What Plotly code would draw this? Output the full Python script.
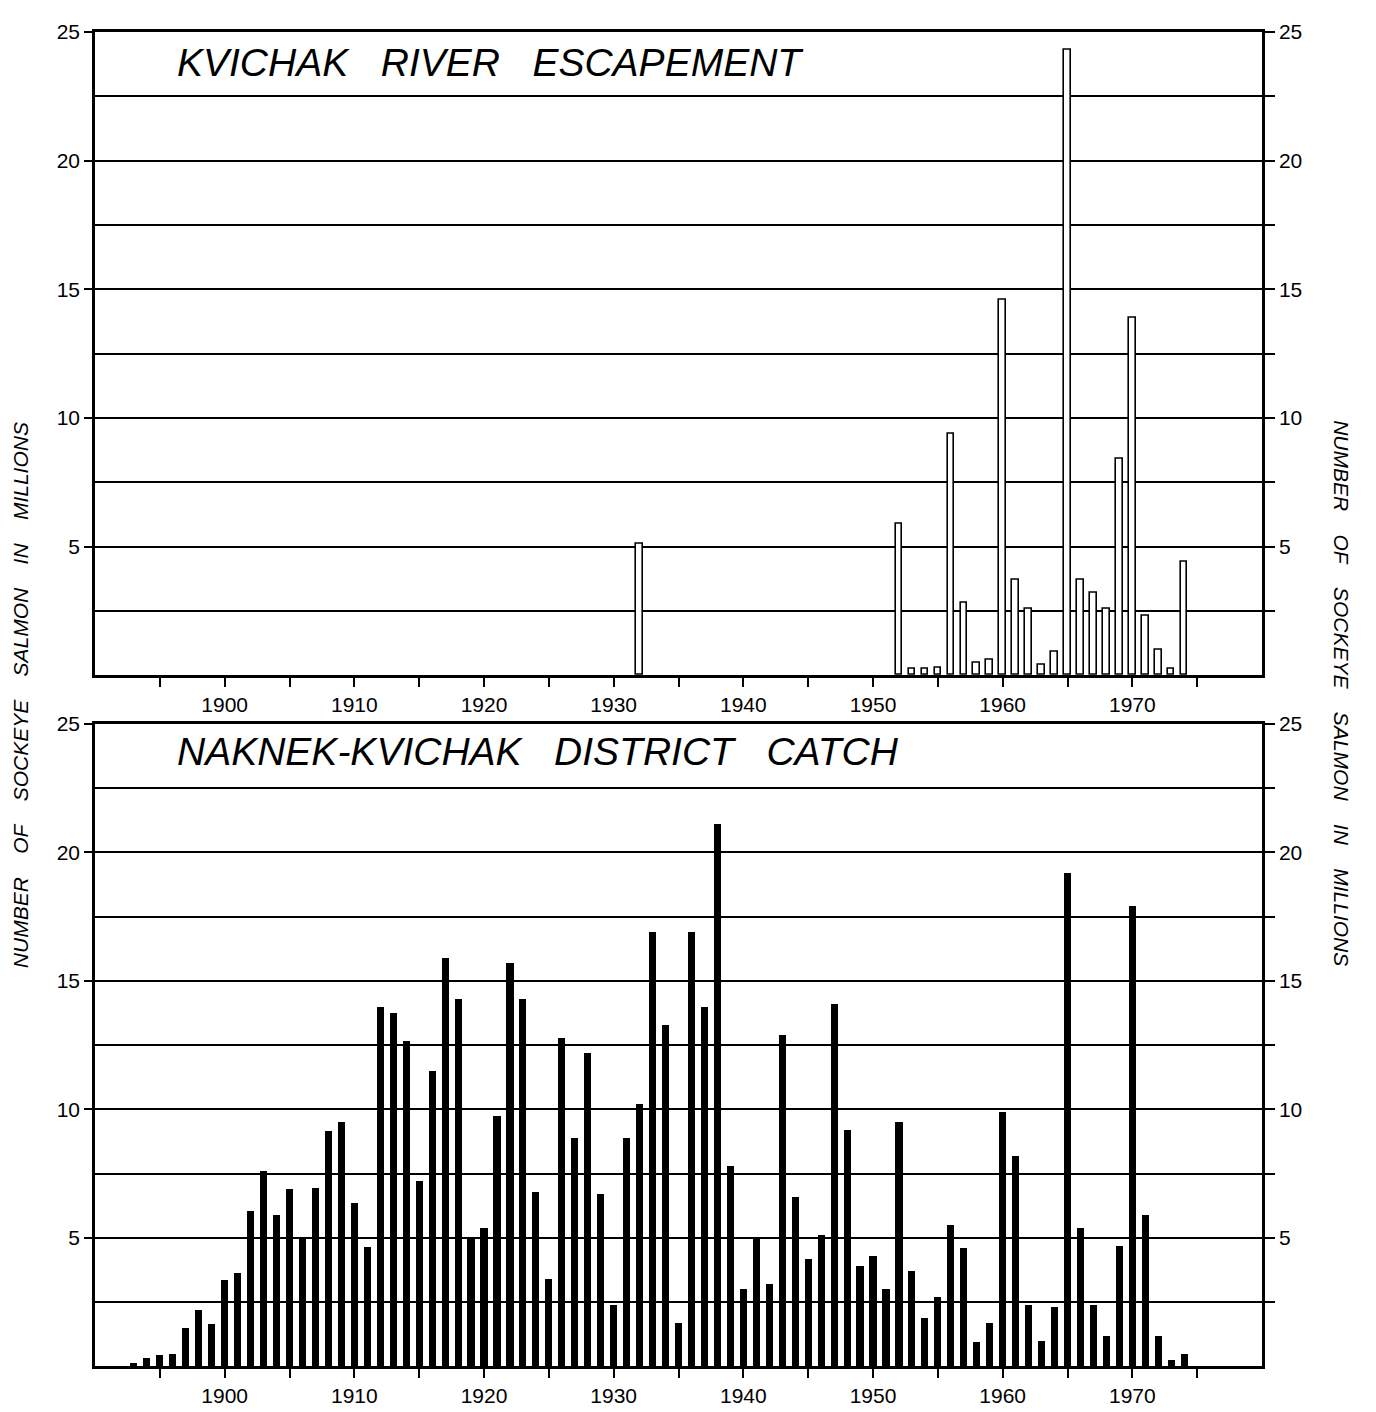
import plotly.graph_objects as go

# ---------------- data ----------------
esc_years = [1932, 1952, 1953, 1954, 1955, 1956, 1957, 1958, 1959, 1960, 1961, 1962,
             1963, 1964, 1965, 1966, 1967, 1968, 1969, 1970, 1971, 1972, 1973, 1974]
esc_values = [5.1, 5.9, 0.25, 0.25, 0.3, 9.4, 2.8, 0.5, 0.6, 14.6, 3.7, 2.6,
              0.4, 0.9, 24.3, 3.7, 3.2, 2.6, 8.4, 13.9, 2.3, 1.0, 0.25, 4.4]

catch_years = list(range(1893, 1975))
catch_values = [0.13, 0.35, 0.45, 0.5, 1.5, 2.2, 1.65,              # 1893-1899
                3.35, 3.65, 6.05, 7.6, 5.9, 6.9, 4.95, 6.95, 9.15, 9.5,   # 1900-1909
                6.35, 4.65, 14.0, 13.75, 12.65, 7.2, 11.5, 15.9, 14.3, 5.05,  # 1910-1919
                5.4, 9.75, 15.7, 14.3, 6.8, 3.4, 12.8, 8.9, 12.2, 6.7,    # 1920-1929
                2.4, 8.9, 10.2, 16.9, 13.3, 1.7, 16.9, 14.0, 21.1, 7.8,   # 1930-1939
                3.0, 5.0, 3.2, 12.9, 6.6, 4.2, 5.1, 14.1, 9.2, 3.9,       # 1940-1949
                4.3, 3.0, 9.5, 3.7, 1.9, 2.7, 5.5, 4.6, 0.95, 1.7,        # 1950-1959
                9.9, 8.2, 2.4, 1.0, 2.3, 19.2, 5.4, 2.4, 1.2, 4.7,        # 1960-1969
                17.9, 5.9, 1.2, 0.25, 0.5]                                # 1970-1974

x_tick_vals = list(range(1895, 1980, 5))
x_tick_text = [str(v) if v % 10 == 0 else "" for v in x_tick_vals]
y_left_ticks = [5, 10, 15, 20, 25]
y_minor_grid = [2.5, 7.5, 12.5, 17.5, 22.5]
y_right_ticks = [2.5 * i for i in range(1, 11)]
y_right_text = [str(int(v)) if v % 5 == 0 else "" for v in y_right_ticks]

NB = "\u00a0"
top_title = (NB * 3).join(["KVICHAK", "RIVER", "ESCAPEMENT"])
bottom_title = (NB * 3).join(["NAKNEK-KVICHAK", "DISTRICT", "CATCH"])
axis_title = (NB * 4).join(["NUMBER", "OF", "SOCKEYE", "SALMON", "IN", "MILLIONS"])

# ---------------- figure ----------------
W, H = 1376, 1412
fig = go.Figure()

fig.add_trace(go.Bar(x=esc_years, y=esc_values, xaxis="x", yaxis="y", width=0.5,
                     marker=dict(color="white", line=dict(color="black", width=1.6)),
                     showlegend=False, hoverinfo="x+y"))
fig.add_trace(go.Bar(x=catch_years, y=catch_values, xaxis="x2", yaxis="y3", width=0.55,
                     marker=dict(color="black", line=dict(width=0)),
                     showlegend=False, hoverinfo="x+y"))
# empty traces so the right-hand overlay axes are drawn
fig.add_trace(go.Scatter(x=[None], y=[None], xaxis="x", yaxis="y2", showlegend=False))
fig.add_trace(go.Scatter(x=[None], y=[None], xaxis="x2", yaxis="y4", showlegend=False))

xl, xr = 95 / W, 1262 / W
top_dom = [1 - 669 / H, 1 - 20 / H]
bot_dom = [1 - 1366 / H, 1 - 718 / H]

tickfont = dict(family="Liberation Sans, DejaVu Sans, sans-serif", size=21, color="black")

def xaxis_cfg(anchor):
    return dict(domain=[xl, xr], range=[1890, 1980], anchor=anchor,
                tickmode="array", tickvals=x_tick_vals, ticktext=x_tick_text,
                ticks="outside", ticklen=9, tickwidth=2, tickcolor="black",
                showline=True, linecolor="black", linewidth=2.5, mirror=True,
                showgrid=False, zeroline=False, tickfont=tickfont)

def yleft_cfg(dom, anchor):
    return dict(domain=dom, range=[0, 25], anchor=anchor, side="left",
                tickmode="array", tickvals=y_left_ticks,
                ticktext=[str(v) for v in y_left_ticks],
                ticks="outside", ticklen=8, tickwidth=2, tickcolor="black",
                showline=True, linecolor="black", linewidth=2.5,
                showgrid=True, gridcolor="black", gridwidth=1.6,
                minor=dict(tickmode="array", tickvals=y_minor_grid, ticks="",
                           showgrid=True, gridcolor="black", gridwidth=1.6),
                zeroline=False, tickfont=tickfont)

def yright_cfg(dom, over, anchor):
    return dict(domain=dom, range=[0, 25], overlaying=over, anchor=anchor, side="right",
                tickmode="array", tickvals=y_right_ticks, ticktext=y_right_text,
                ticks="outside", ticklen=10, tickwidth=2, tickcolor="black",
                showline=True, linecolor="black", linewidth=2.5,
                showgrid=False, zeroline=False, tickfont=tickfont)

fig.update_layout(
    width=W, height=H,
    margin=dict(l=0, r=0, t=0, b=0),
    paper_bgcolor="white", plot_bgcolor="white",
    bargap=0,
    xaxis=xaxis_cfg("y"),
    yaxis=yleft_cfg(top_dom, "x"),
    yaxis2=yright_cfg(top_dom, "y", "x"),
    xaxis2=xaxis_cfg("y3"),
    yaxis3=yleft_cfg(bot_dom, "x2"),
    yaxis4=yright_cfg(bot_dom, "y3", "x2"),
)

title_font = dict(family="Liberation Sans, DejaVu Sans, sans-serif", size=39, color="black")
axis_font = dict(family="Liberation Sans, DejaVu Sans, sans-serif", size=21, color="black")

fig.add_annotation(text="<i>" + top_title + "</i>", xref="paper", yref="paper",
                   x=175 / W, y=1 - 51 / H, xanchor="left", yanchor="middle",
                   showarrow=False, font=title_font, bgcolor="white")
fig.add_annotation(text="<i>" + bottom_title + "</i>", xref="paper", yref="paper",
                   x=175 / W, y=1 - 746 / H, xanchor="left", yanchor="middle",
                   showarrow=False, font=title_font, bgcolor="white")
fig.add_annotation(text="<i>" + axis_title + "</i>", xref="paper", yref="paper",
                   x=1342 / W, y=1 - 687 / H, xanchor="center", yanchor="middle",
                   textangle=90, showarrow=False, font=axis_font)
fig.add_annotation(text="<i>" + axis_title + "</i>", xref="paper", yref="paper",
                   x=20 / W, y=1 - 689 / H, xanchor="center", yanchor="middle",
                   textangle=-90, showarrow=False, font=axis_font)

fig.write_html("out.html")
